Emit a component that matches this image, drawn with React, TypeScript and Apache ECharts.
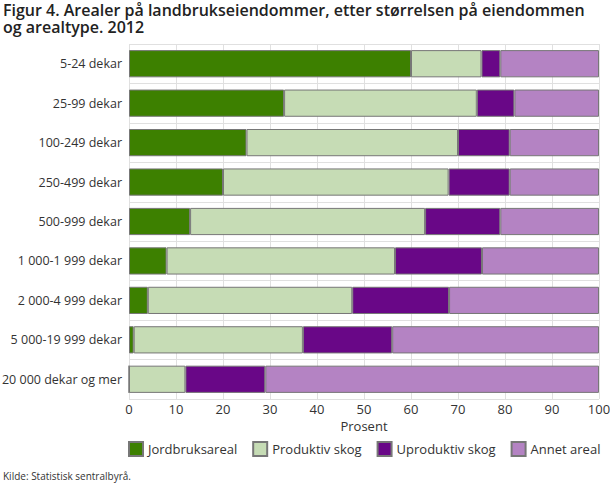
import * as echarts from 'echarts';
import { useEffect, useRef } from 'react';

const categories = [
  '5-24 dekar',
  '25-99 dekar',
  '100-249 dekar',
  '250-499 dekar',
  '500-999 dekar',
  '1 000-1 999 dekar',
  '2 000-4 999 dekar',
  '5 000-19 999 dekar',
  '20 000 dekar og mer',
];

const jordbruksareal = [60, 33, 25, 20, 13, 8, 4, 1, 0];
const produktivSkog = [15, 41, 45, 48, 50, 48.6, 43.5, 36, 12];
const uproduktivSkog = [4, 8, 11, 13, 16, 18.5, 20.6, 19, 17];
const annetAreal = [21, 18, 19, 19, 21, 24.9, 31.9, 44, 71];

const seriesNames = ['Jordbruksareal', 'Produktiv skog', 'Uproduktiv skog', 'Annet areal'];
const colors = ['#3d8000', '#c6dcb5', '#690787', '#b483c3'];

const titleLines = [
  'Figur 4. Arealer på landbrukseiendommer, etter størrelsen på eiendommen',
  'og arealtype. 2012',
];

const FONT = '"Open Sans", sans-serif';

function App() {
  const chartRef = useRef(null);

  useEffect(() => {
    const myChart = echarts.init(chartRef.current, null, { renderer: 'svg' });

    const values = [jordbruksareal, produktivSkog, uproduktivSkog, annetAreal];

    const option = {
      animation: false,
      textStyle: { fontFamily: FONT },
      title: titleLines.map((text, i) => ({
        text,
        left: 3,
        top: 1 + i * 17,
        padding: 0,
        textStyle: {
          fontFamily: FONT,
          fontSize: 16,
          fontWeight: 600,
          color: '#222',
          lineHeight: 17,
        },
      })),
      legend: {
        left: 128,
        top: 441,
        padding: 0,
        itemWidth: 14,
        itemHeight: 14,
        itemGap: 15,
        icon: 'rect',
        textStyle: { fontFamily: FONT, fontSize: 13, color: '#333' },
        data: seriesNames,
      },
      grid: {
        left: 129,
        right: 11,
        top: 44,
        bottom: 89,
        outerBoundsMode: 'none',
      },
      xAxis: {
        type: 'value',
        min: 0,
        max: 100,
        interval: 10,
        name: 'Prosent',
        nameLocation: 'middle',
        nameGap: 13,
        nameTextStyle: { fontFamily: FONT, fontSize: 13, color: '#333' },
        axisLine: { show: false },
        axisTick: { show: false },
        axisLabel: { fontFamily: FONT, fontSize: 13, color: '#333', margin: 3 },
        splitLine: { show: true, lineStyle: { color: '#e0e0e0', width: 1 } },
      },
      yAxis: {
        type: 'category',
        inverse: true,
        data: categories,
        axisLine: { show: false },
        axisTick: { show: false },
        axisLabel: { fontFamily: FONT, fontSize: 12.5, color: '#333', margin: 7 },
        splitLine: { show: true, lineStyle: { color: '#e0e0e0', width: 1 } },
      },
      series: seriesNames.map((name, i) => ({
        name,
        type: 'bar',
        stack: 'total',
        barWidth: '69%',
        data: values[i],
        itemStyle: {
          color: colors[i],
          borderColor: '#777',
          borderWidth: 1,
        },
      })),
      graphic: [
        {
          type: 'text',
          left: 3,
          top: 471,
          style: {
            text: 'Kilde: Statistisk sentralbyrå.',
            fontFamily: FONT,
            fontSize: 10,
            fill: '#333',
          },
        },
      ],
    };

    myChart.setOption(option);

    return () => {
      myChart.dispose();
    };
  }, []);

  return (
    <div
      ref={chartRef}
      style={{ position: 'absolute', left: 0, top: 0, width: '610px', height: '488px' }}
    ></div>
  );
}

export default App;
